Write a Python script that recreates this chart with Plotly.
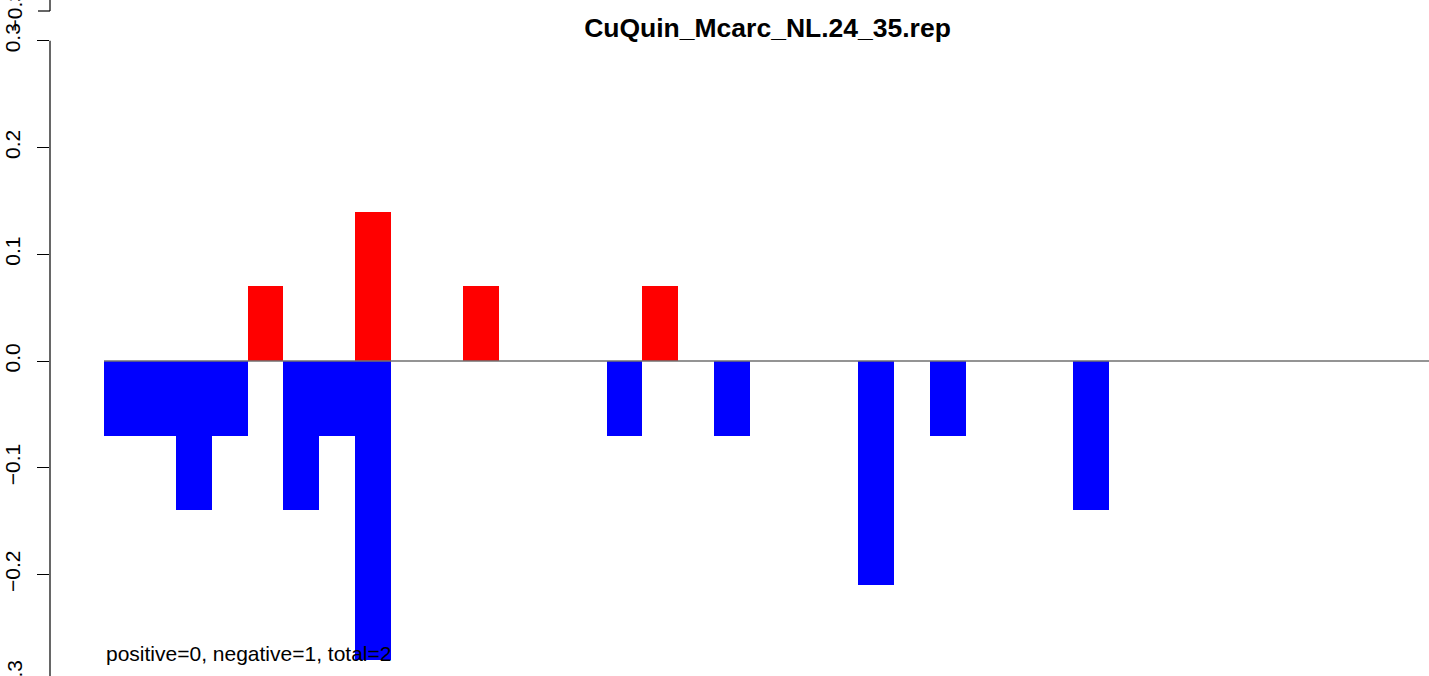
import plotly.graph_objects as go

title_text = "CuQuin_Mcarc_NL.24_35.rep"
note_text = "positive=0, negative=1, total=2"

n_slots = 37
slots = list(range(n_slots))
# positive (red) and negative (blue) bar heights per slot
positive = [0, 0, 0, 0, 0.07, 0, 0, 0.14, 0, 0, 0.07, 0, 0, 0, 0, 0.07, 0, 0, 0,
            0, 0, 0, 0, 0, 0, 0, 0, 0, 0, 0, 0, 0, 0, 0, 0, 0, 0]
negative = [-0.07, -0.07, -0.14, -0.07, 0, -0.14, -0.07, -0.28, 0, 0, 0, 0, 0, 0,
            -0.07, 0, 0, -0.07, 0, 0, 0, -0.21, 0, -0.07, 0, 0, 0, -0.14, 0, 0,
            0, 0, 0, 0, 0, 0, 0]
tick_vals = [-0.2, -0.1, 0.0, 0.1, 0.2, 0.3]
tick_text = ["\u22120.2", "\u22120.1", "0.0", "0.1", "0.2", "0.3"]

W, H = 1429, 676
FONT = "Liberation Sans, Arial, Helvetica, sans-serif"
PLOT_W = W - 50

fig = go.Figure()
fig.add_trace(go.Bar(x=slots, y=positive, width=1, marker=dict(color="#ff0000", line=dict(width=0)),
                     showlegend=False, hoverinfo="skip"))
fig.add_trace(go.Bar(x=slots, y=negative, width=1, marker=dict(color="#0000ff", line=dict(width=0)),
                     showlegend=False, hoverinfo="skip"))

# zero line across the bar slots
fig.add_shape(type="line", xref="x", yref="y", x0=-0.5, x1=n_slots - 0.5, y0=0, y1=0,
              line=dict(color="#707070", width=1.3), layer="above")

# main y axis line (R style: from min to max tick)
fig.add_shape(type="line", xref="paper", yref="y", x0=0, x1=0, y0=-0.3, y1=0.3,
              line=dict(color="black", width=1.2))
# fragment of the axis of the panel above
top_frac = 1 - 11 / H
fig.add_shape(type="line", xref="paper", yref="paper", x0=0, x1=0, y0=top_frac, y1=1.0,
              line=dict(color="black", width=1.2))
fig.add_shape(type="line", xref="paper", yref="paper", x0=-12 / PLOT_W, x1=0, y0=top_frac, y1=top_frac,
              line=dict(color="black", width=1.2))
lab_x = -(50 - 13.5) / PLOT_W
fig.add_annotation(xref="paper", yref="paper", x=lab_x, y=top_frac, text="\u22120.3",
                   textangle=-90, showarrow=False, xanchor="center", yanchor="middle",
                   font=dict(family=FONT, size=21, color="black"))
# bottom -0.3 tick label (mostly off-canvas)
fig.add_annotation(xref="paper", yref="paper", x=lab_x, y=-5 / H, text="\u22120.3",
                   textangle=-90, showarrow=False, xanchor="center", yanchor="middle",
                   font=dict(family=FONT, size=21, color="black"))

fig.add_annotation(xref="x", yref="y", x=-0.5, y=-0.274, text=note_text, showarrow=False,
                   xanchor="left", yanchor="middle", font=dict(family=FONT, size=21, color="black"))

fig.update_layout(
    width=W, height=H,
    margin=dict(l=50, r=0, t=0, b=0),
    paper_bgcolor="white", plot_bgcolor="white",
    barmode="relative", bargap=0,
    title=dict(text="<b>" + title_text + "</b>", x=767.5 / W, xanchor="center", y=1 - 28 / H,
               yanchor="middle", xref="container", yref="container",
               font=dict(family=FONT, size=26.5, color="black")),
    xaxis=dict(visible=False, range=[-2.004, 36.41]),
    yaxis=dict(range=[-0.2952, 0.3383], tickvals=tick_vals, ticktext=tick_text,
               ticks="outside", ticklen=12, tickwidth=1.2, tickcolor="black",
               tickangle=-90, showgrid=False, zeroline=False, showline=False,
               tickfont=dict(family=FONT, size=21, color="black"), automargin=False,
               ticklabelstandoff=9),
    font=dict(family=FONT),
)
fig.write_html("out.html", config={"displayModeBar": False},
               post_script="document.body.style.margin='0';document.body.style.overflow='hidden';")
